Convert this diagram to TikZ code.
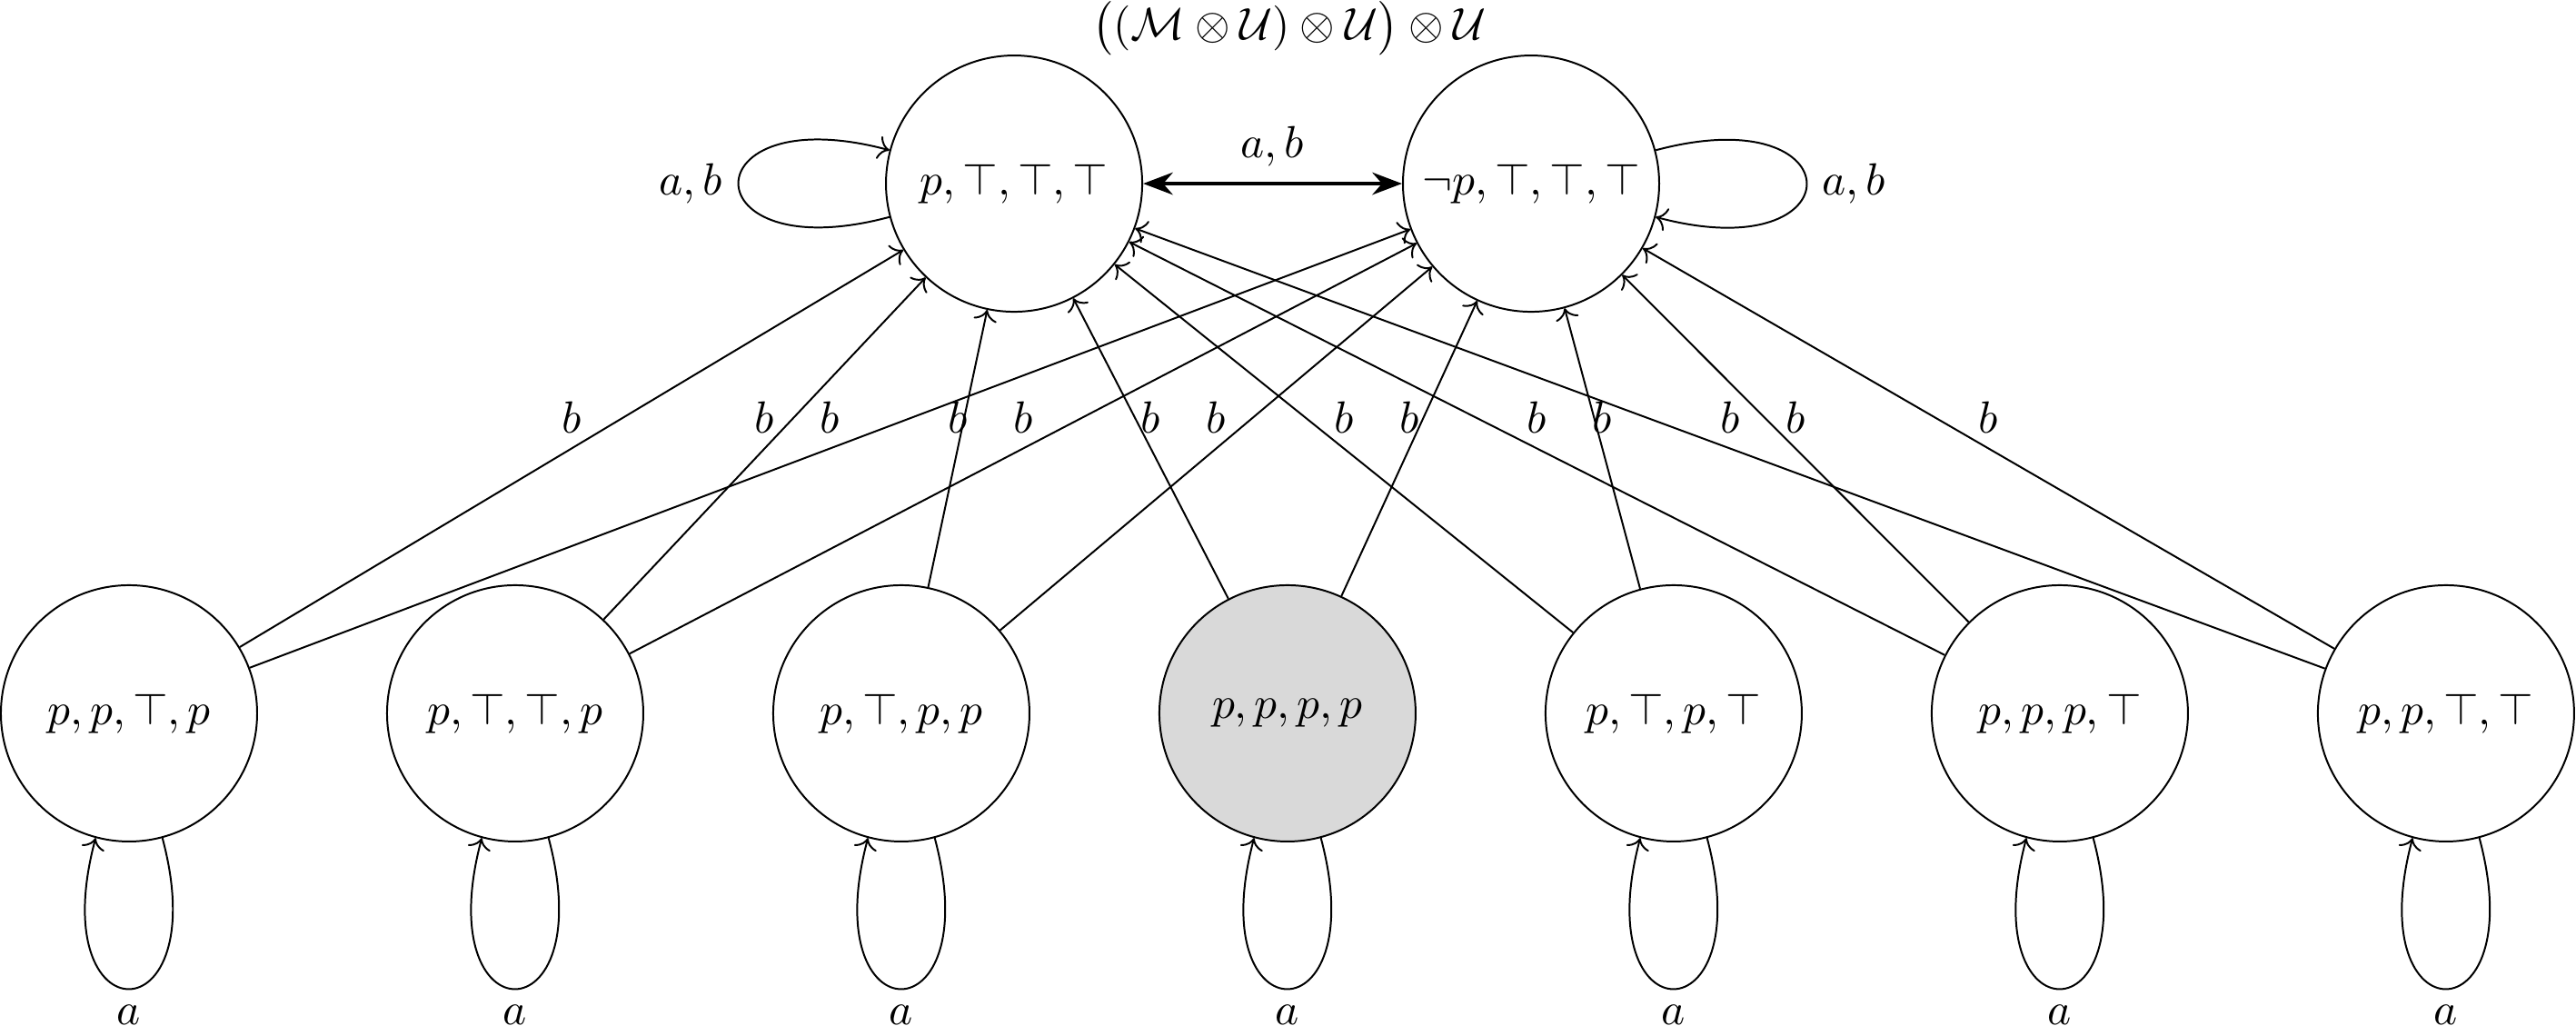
\documentclass[tikz,border=0pt]{standalone}
\usetikzlibrary{arrows.meta}
\begin{document}
\begin{tikzpicture}[
  state/.style={circle, draw, minimum size=2cm, inner sep=0pt},
  init/.style={state, fill=black!15},
  bedge/.style={->},
  lab/.style={midway, above},
  both/.style={{Stealth}-{Stealth}, thick}
]
\useasboundingbox (0,0) rectangle (20.106,-8.0);
% top row
\node[state] (tl) at (7.915,-1.433) {$p, \top, \top, \top$};
\node[state] (tr) at (11.950,-1.433) {$\neg p, \top, \top, \top$};
\node[anchor=base] (title) at (10.064,-0.3085) {$\bigl((\mathcal{M}\otimes\mathcal{U})\otimes\mathcal{U}\bigr)\otimes\mathcal{U}$};
% bottom row
\node[state] (b1) at (1.007,-5.567) {$p, p, \top, p$};
\node[state] (b2) at (4.021,-5.567) {$p, \top, \top, p$};
\node[state] (b3) at (7.035,-5.567) {$p, \top, p, p$};
\node[init]  (b4) at (10.049,-5.567) {$p, p, p, p$};
\node[state] (b5) at (13.063,-5.567) {$p, \top, p, \top$};
\node[state] (b6) at (16.077,-5.567) {$p, p, p, \top$};
\node[state] (b7) at (19.091,-5.567) {$p, p, \top, \top$};
% loops
\draw[->] (tl) to[loop left] node[left] {$a, b$} (tl);
\draw[->] (tr) to[loop right] node[right] {$a, b$} (tr);
\foreach \i in {1,...,7} {
  \draw[->] (b\i) to[loop below] node[below] {$a$} (b\i);
}
% top double arrow
\draw[both] (tl) -- node[lab] {$a, b$} (tr);
% b edges
\foreach \i in {1,...,7} {
  \draw[bedge] (b\i) -- node[lab] {$b$} (tl);
  \draw[bedge] (b\i) -- node[lab] {$b$} (tr);
}
\end{tikzpicture}
\end{document}
